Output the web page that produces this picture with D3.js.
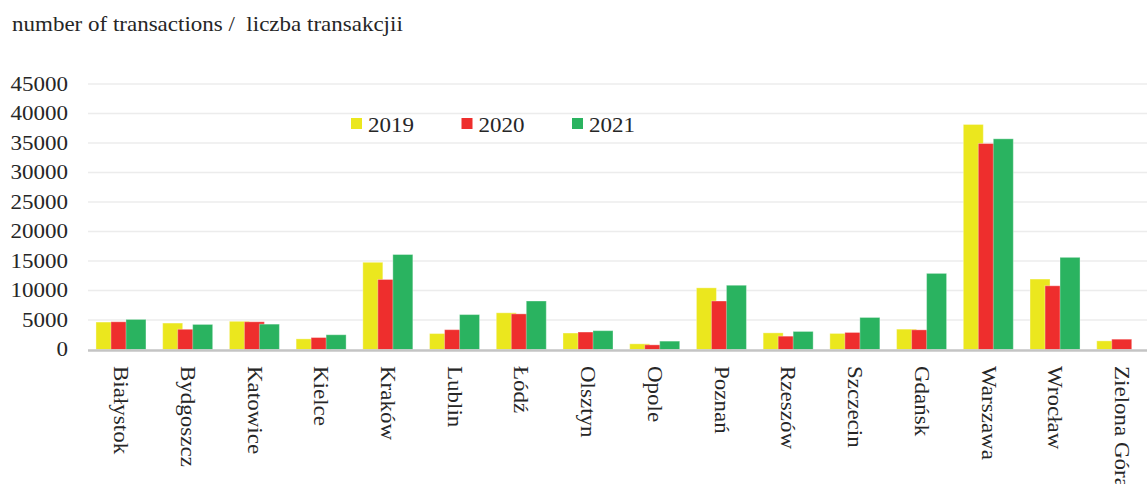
<!DOCTYPE html>
<html>
<head>
<meta charset="utf-8">
<script src="https://cdn.jsdelivr.net/npm/d3@7"></script>
<style>
  html, body { margin: 0; padding: 0; background: #fff; }
  svg { display: block; }
  text { font-family: "Liberation Serif", "Times New Roman", serif; fill: #262626; }
</style>
</head>
<body>
<div id="chart"></div>
<script>
// data
const cities = ["Białystok", "Bydgoszcz", "Katowice", "Kielce", "Kraków", "Lublin", "Łódź", "Olsztyn",
  "Opole", "Poznań", "Rzeszów", "Szczecin", "Gdańsk", "Warszawa", "Wrocław", "Zielona Góra"];
const years = ["2019", "2020", "2021"];
const v2019 = [4650, 4480, 4780, 1800, 14780, 2700, 6220, 2790, 960, 10450, 2820, 2720, 3450, 38140, 11940, 1460];
const v2020 = [4700, 3430, 4700, 2030, 11870, 3360, 6040, 2960, 790, 8220, 2260, 2890, 3330, 34910, 10800, 1750];
const v2021 = [5100, 4250, 4300, 2500, 16100, 5920, 8220, 3190, 1420, 10890, 3060, 5430, 12900, 35710, 15620, null];
const yTicks = [0, 5000, 10000, 15000, 20000, 25000, 30000, 35000, 40000, 45000];
const title = "number of transactions /  liczba transakcjii";

const width = 1147, height = 484;
const colors = ["#EBE71E", "#EE2E2D", "#2AB360"];
const series = [v2019, v2020, v2021];
const stretch = 1.15; // glyphs in the picture are a little wide

const svg = d3.select("#chart").append("svg")
  .attr("width", width)
  .attr("height", height);

const x = d3.scaleBand().domain(cities).range([87.6, 1155.1]).padding(0);
const sub = d3.scalePoint().domain(years).range([-15, 15]);
const barW = 20;
const y = d3.scaleLinear().domain([0, 45000]).range([349.5, 84]);

// title
svg.append("text")
  .attr("transform", `translate(12,31) scale(${stretch},1)`)
  .attr("font-size", 20)
  .attr("xml:space", "preserve")
  .style("white-space", "pre")
  .text(title);

// grid
svg.append("g")
  .selectAll("line")
  .data(yTicks.slice(1))
  .join("line")
  .attr("x1", 88).attr("x2", width)
  .attr("y1", d => y(d)).attr("y2", d => y(d))
  .attr("stroke", "#ececec")
  .attr("stroke-width", 1.5);

// y labels
svg.append("g")
  .selectAll("text")
  .data(yTicks)
  .join("text")
  .attr("transform", d => `translate(68,${y(d)}) scale(${stretch},1)`)
  .attr("text-anchor", "end")
  .attr("dy", "0.34em")
  .attr("font-size", 20)
  .text(d => d);

// bars
years.forEach((yr, s) => {
  svg.append("g")
    .selectAll("rect")
    .data(cities.map((c, i) => ({ city: c, value: series[s][i] })).filter(d => d.value != null))
    .join("rect")
    .attr("x", d => x(d.city) + x.bandwidth() / 2 + sub(yr) - barW / 2)
    .attr("y", d => y(d.value))
    .attr("width", barW)
    .attr("height", d => y(0) - y(d.value))
    .attr("fill", colors[s])
    .attr("stroke", "rgba(255,255,255,0.35)")
    .attr("stroke-width", 1);
});

// baseline
svg.append("line")
  .attr("x1", 88).attr("x2", width)
  .attr("y1", 350.5).attr("y2", 350.5)
  .attr("stroke", "#c4c4c4")
  .attr("stroke-width", 2.5);

// x labels, rotated
svg.append("g")
  .selectAll("text")
  .data(cities)
  .join("text")
  .attr("transform", d => `translate(${x(d) + x.bandwidth() / 2},366) rotate(90) scale(${stretch},1)`)
  .attr("dy", "0.34em")
  .attr("font-size", 20)
  .text(d => d);

// legend
const legend = svg.append("g")
  .selectAll("g")
  .data(years)
  .join("g")
  .attr("transform", (d, i) => `translate(${351 + i * 110.5},118)`);

legend.append("rect")
  .attr("width", 11).attr("height", 11)
  .attr("fill", (d, i) => colors[i]);

legend.append("text")
  .attr("transform", `translate(17,13.5) scale(${stretch},1)`)
  .attr("font-size", 20)
  .text(d => d);
</script>
</body>
</html>
